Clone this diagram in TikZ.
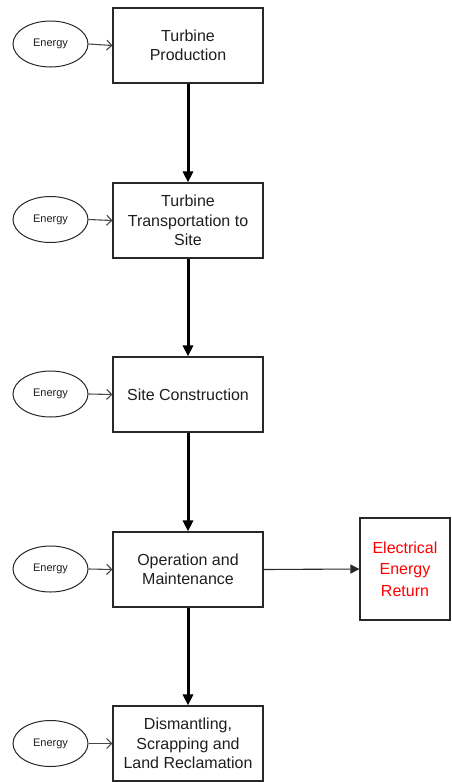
\documentclass[tikz,border=0pt]{standalone}
\usepackage{fontspec}
\setmainfont{Liberation Sans}
\usetikzlibrary{shapes.geometric,arrows.meta}
\definecolor{linegray}{RGB}{40,40,40}
\definecolor{textgray}{RGB}{30,30,30}
\definecolor{energyred}{RGB}{255,0,0}
\begin{document}
\begin{tikzpicture}[x=1pt,y=-1pt,
  stagebox/.style={draw=linegray,line width=1.1pt,minimum width=150pt,minimum height=75pt,inner sep=2pt,align=center,text=textgray,font=\fontsize{16}{19.5}\selectfont},
  energyell/.style={ellipse,draw=linegray,line width=1pt,minimum width=75pt,minimum height=46pt,inner sep=0pt,text=textgray,font=\fontsize{11}{13}\selectfont},
  returnbox/.style={draw=linegray,line width=1.1pt,minimum width=90pt,minimum height=102pt,inner sep=2pt,align=center,text=energyred,font=\fontsize{16}{21.5}\selectfont},
  flow/.style={line width=3pt,-{Triangle[length=11pt,width=10pt]}},
  feed/.style={draw=linegray!85,line width=1.1pt,-{Straight Barb[length=5pt,width=10pt]}},
  outflow/.style={draw=linegray,line width=1.1pt,-{Triangle[length=9pt,width=9pt]}}]
\useasboundingbox (0,0) rectangle (452,782);
\node[stagebox] (b1) at (188,45.5) {Turbine\\Production};
\node[stagebox] (b2) at (188,220.5) {Turbine\\Transportation to\\Site};
\node[stagebox] (b3) at (188,394.5) {Site Construction};
\node[stagebox] (b4) at (188,569.5) {Operation and\\Maintenance};
\node[stagebox] (b5) at (188,743.5) {Dismantling,\\Scrapping and\\Land Reclamation};
\node[returnbox] (r) at (405,569) {Electrical\\Energy\\Return};
\node[energyell] (e1) at (50.5,44) {Energy};
\node[energyell] (e2) at (50.5,219.5) {Energy};
\node[energyell] (e3) at (50.5,394) {Energy};
\node[energyell] (e4) at (50.5,569) {Energy};
\node[energyell] (e5) at (50.5,743.5) {Energy};
\draw[flow] (b1.south) -- (b2.north);
\draw[flow] (b2.south) -- (b3.north);
\draw[flow] (b3.south) -- (b4.north);
\draw[flow] (b4.south) -- (b5.north);
\draw[feed] (e1.east) -- (b1.west);
\draw[feed] (e2.east) -- (b2.west);
\draw[feed] (e3.east) -- (b3.west);
\draw[feed] (e4.east) -- (b4.west);
\draw[feed] (e5.east) -- (b5.west);
\draw[outflow] (b4.east) -- (r.west);
\end{tikzpicture}
\end{document}
